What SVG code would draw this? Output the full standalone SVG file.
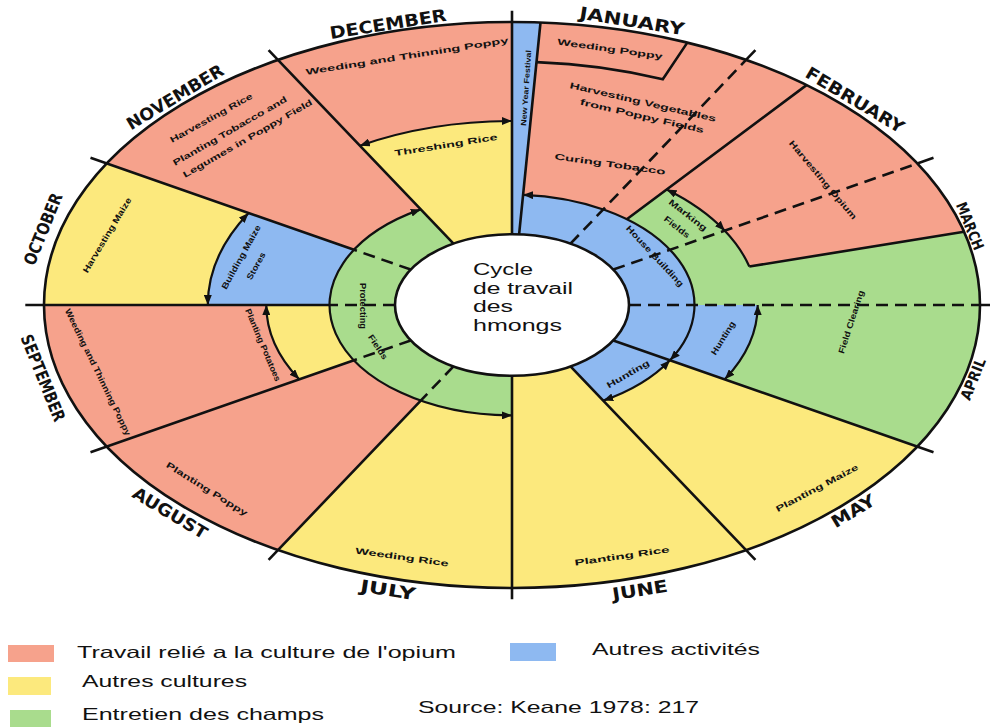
<svg xmlns="http://www.w3.org/2000/svg" width="990" height="728" viewBox="0 0 990 728">
<style>
.r{fill:#F6A28C}.y{fill:#FCE97D}.g{fill:#A9DC8D}.b{fill:#8EB9F1}
.ln{fill:none;stroke:#111;stroke-width:2.6;stroke-linecap:butt}
.ds{fill:none;stroke:#111;stroke-width:2.6;stroke-dasharray:12 7}
.ar{fill:none;stroke:#111;stroke-width:2.2;marker-start:url(#ah);marker-end:url(#ah)}
.m{font-family:"DejaVu Sans Condensed","Liberation Sans",Arial,sans-serif;font-weight:bold;font-size:17px;fill:#111;text-anchor:middle}
.t{font-family:"Liberation Sans",Arial,sans-serif;font-weight:bold;font-size:8.5px;fill:#111;text-anchor:middle}
.ts{font-family:"Liberation Sans",Arial,sans-serif;font-weight:bold;font-size:8.5px;fill:#111;text-anchor:start}
.c{font-family:"Liberation Sans",Arial,sans-serif;font-size:16px;fill:#111}
.lg{font-family:"Liberation Sans",Arial,sans-serif;font-size:16.5px;fill:#111}
</style>
<defs>
<marker id="ah" markerWidth="10" markerHeight="8" refX="10" refY="4" orient="auto-start-reverse" markerUnits="userSpaceOnUse"><path d="M0,0 L10,4 L0,8 Z" fill="#111"/></marker>
</defs>
<rect width="990" height="728" fill="#fff"/>

<g id="dec-weeding"><path class="r" d="M278,59.9 A468 283 0 0 1 512,22 L512,121 A304.2 184 0 0 0 359.9,145.7 Z"/>
<text class="t" dy="0.35em" transform="translate(407 56) rotate(-9)" textLength="205" lengthAdjust="spacingAndGlyphs">Weeding and Thinning Poppy</text></g>
<g id="dec-threshing"><path class="y" d="M359.9,145.7 A304.2 184 0 0 1 512,121 L512,234.25 A117 70.75 0 0 0 453.5,243.7 Z"/>
<text class="t" dy="0.35em" transform="translate(446 145) rotate(-9)" textLength="104" lengthAdjust="spacingAndGlyphs">Threshing Rice</text></g>
<g id="new-year"><path class="b" d="M512,22 A468 283 0 0 1 540.5,22.5 L519.1,234.4 A117 70.75 0 0 0 512,234.25 Z"/>
<text class="t" style="font-size:7.5px" dy="0.35em" transform="translate(526 88) rotate(-86)" textLength="76" lengthAdjust="spacingAndGlyphs">New Year Festival</text></g>
<g id="jan-harvest"><path class="r" d="M540.5,22.5 A468 283 0 0 1 806.5,85.1 L626.8,219.2 A182.5 110.4 0 0 0 523.1,194.8 Z"/>
<text class="t" dy="0.35em" transform="translate(643 102) rotate(13)" textLength="150" lengthAdjust="spacingAndGlyphs">Harvesting Vegetables</text>
<text class="t" dy="0.35em" transform="translate(642 116) rotate(13)" textLength="127" lengthAdjust="spacingAndGlyphs">from Poppy Fields</text>
<text class="t" dy="0.35em" transform="translate(610 164) rotate(8)" textLength="112" lengthAdjust="spacingAndGlyphs">Curing Tobacco</text></g>
<g id="jan-weeding-poppy"><path class="ln" d="M536.6,62.1 A402.5 243.4 0 0 1 662.8,79.3 L687.3,42.6"/>
<text class="t" dy="0.35em" transform="translate(610 49) rotate(8)" textLength="106" lengthAdjust="spacingAndGlyphs">Weeding Poppy</text></g>
<g id="field-clearing"><path class="g" d="M806.5,85.1 A468 283 0 0 1 917.3,446.5 L670,360.2 A182.5 110.4 0 0 0 626.8,219.2 Z"/>
<text class="t" dy="0.35em" transform="translate(851 322) rotate(-72)" textLength="66" lengthAdjust="spacingAndGlyphs">Field Clearing</text></g>
<g id="marking-fields">
<text class="t" dy="0.35em" transform="translate(688 215) rotate(38)" textLength="46" lengthAdjust="spacingAndGlyphs">Marking</text>
<text class="t" dy="0.35em" transform="translate(677 227) rotate(38)" textLength="30" lengthAdjust="spacingAndGlyphs">Fields</text></g>
<g id="feb-opium"><path class="r" d="M806.5,85.1 A468 283 0 0 1 964,231.8 L749.3,266.5 A245.7 148.6 0 0 0 666.6,189.5 Z"/>
<text class="t" dy="0.35em" transform="translate(823 180) rotate(50)" textLength="100" lengthAdjust="spacingAndGlyphs">Harvesting Opium</text></g>
<g id="hunting-1"><path class="b" d="M757.7,305 A245.7 148.6 0 0 1 724.8,379.3 L670,360.2 A182.5 110.4 0 0 0 694.5,305 Z"/>
<text class="t" dy="0.35em" transform="translate(723 338) rotate(-58)" textLength="38" lengthAdjust="spacingAndGlyphs">Hunting</text></g>
<g id="house-building"><path class="b" d="M523.1,194.8 A182.5 110.4 0 0 1 670,360.2 L613.3,340.4 A117 70.75 0 0 0 519.1,234.4 Z"/>
<text class="t" dy="0.35em" transform="translate(655 256) rotate(47)" textLength="80" lengthAdjust="spacingAndGlyphs">House Building</text></g>
<g id="hunting-2"><path class="b" d="M670,360.2 A182.5 110.4 0 0 1 603.25,400.6 L570.5,366.3 A117 70.75 0 0 0 613.3,340.4 Z"/>
<text class="t" dy="0.35em" transform="translate(628 374) rotate(-30)" textLength="48" lengthAdjust="spacingAndGlyphs">Hunting</text></g>
<g id="may-maize"><path class="y" d="M917.3,446.5 A468 283 0 0 1 746,550.1 L603.25,400.6 A182.5 110.4 0 0 0 670,360.2 Z"/>
<text class="t" dy="0.35em" transform="translate(817 488) rotate(-28)" textLength="92" lengthAdjust="spacingAndGlyphs">Planting Maize</text></g>
<g id="june-rice"><path class="y" d="M746,550.1 A468 283 0 0 1 512,588 L512,375.75 A117 70.75 0 0 0 570.5,366.3 Z"/>
<text class="t" dy="0.35em" transform="translate(622 556) rotate(-8)" textLength="96" lengthAdjust="spacingAndGlyphs">Planting Rice</text></g>
<g id="july-rice"><path class="y" d="M512,588 A468 283 0 0 1 278,550.1 L420.75,400.6 A182.5 110.4 0 0 0 512,415.4 Z"/>
<text class="t" dy="0.35em" transform="translate(402 557) rotate(8)" textLength="94" lengthAdjust="spacingAndGlyphs">Weeding Rice</text></g>
<g id="protecting-fields"><path class="g" d="M420.75,209.4 A182.5 110.4 0 0 0 512,415.4 L512,375.75 A117 70.75 0 0 1 453.5,243.7 Z"/>
<text class="t" dy="0.35em" transform="translate(363 306) rotate(90)" textLength="46" lengthAdjust="spacingAndGlyphs">Protecting</text>
<text class="t" dy="0.35em" transform="translate(378 347) rotate(56)" textLength="28" lengthAdjust="spacingAndGlyphs">Fields</text></g>
<g id="aug-poppy"><path class="r" d="M278,550.1 A468 283 0 0 1 106.7,446.5 L354,360.2 A182.5 110.4 0 0 0 420.75,400.6 Z"/>
<text class="t" dy="0.35em" transform="translate(207 489) rotate(32)" textLength="94" lengthAdjust="spacingAndGlyphs">Planting Poppy</text></g>
<g id="sep-poppy"><path class="r" d="M106.7,446.5 A468 283 0 0 1 44,305 L266.3,305 A245.7 148.6 0 0 0 299.2,379.3 Z"/>
<text class="t" dy="0.35em" transform="translate(98 372) rotate(64)" textLength="140" lengthAdjust="spacingAndGlyphs">Weeding and Thinning Poppy</text>
<text class="t" dy="0.35em" transform="translate(263 345) rotate(67)" textLength="78" lengthAdjust="spacingAndGlyphs">Planting Potatoes</text></g>
<g id="sep-potatoes"><path class="y" d="M299.2,379.3 A245.7 148.6 0 0 1 266.3,305 L329.5,305 A182.5 110.4 0 0 0 354,360.2 Z"/></g>
<g id="oct-maize"><path class="y" d="M44,305 A468 283 0 0 1 106.7,163.5 L248.6,213 A304.2 184 0 0 0 207.8,305 Z"/>
<text class="t" dy="0.35em" transform="translate(107 235) rotate(-59)" textLength="86" lengthAdjust="spacingAndGlyphs">Harvesting Maize</text></g>
<g id="oct-stores"><path class="b" d="M207.8,305 A304.2 184 0 0 1 248.6,213 L354,249.8 A182.5 110.4 0 0 0 329.5,305 Z"/>
<text class="t" dy="0.35em" transform="translate(241 257) rotate(-61)" textLength="72" lengthAdjust="spacingAndGlyphs">Building Maize</text>
<text class="t" dy="0.35em" transform="translate(256 266) rotate(-61)" textLength="30" lengthAdjust="spacingAndGlyphs">Stores</text></g>
<g id="nov-rice"><path class="r" d="M106.7,163.5 A468 283 0 0 1 278,59.9 L420.75,209.4 A182.5 110.4 0 0 0 354,249.8 Z"/>
<text class="ts" transform="translate(172 143) rotate(-29)" textLength="93" lengthAdjust="spacingAndGlyphs">Harvesting Rice</text>
<text class="ts" transform="translate(175 166) rotate(-30)" textLength="130" lengthAdjust="spacingAndGlyphs">Planting Tobacco and</text>
<text class="ts" transform="translate(185 178) rotate(-30)" textLength="148" lengthAdjust="spacingAndGlyphs">Legumes in Poppy Field</text></g>

<g id="connectors">
<path class="ln" d="M512,234.25 L512,10.7 M519.1,234.4 L540.5,22.5 M453.5,243.7 L268.6,50.1 M354,249.8 L90.5,157.85 M329.5,305 L25.3,305 M354,360.2 L90.5,452.2 M420.75,400.6 L268.6,559.9 M512,375.75 L512,599.3 M570.5,366.3 L755.4,559.9 M613.3,340.4 L933.5,452.2 M980,305 L992,305 M917.3,163.5 L933.5,157.85 M746,59.9 L755.4,50.1 M626.8,219.2 L806.5,85.1 M749.3,266.5 L964,231.8"/>
<path class="ds" d="M410.7,269.6 L354,249.8 M395,305 L329.5,305 M410.7,340.4 L354,360.2 M453.5,366.3 L420.75,400.6 M629,305 L980,305 M613.3,269.6 L917.3,163.5 M570.5,243.7 L746,59.9"/>
<path class="ar" d="M359.9,145.7 A304.2 184 0 0 1 512,121"/>
<path class="ar" d="M207.8,305 A304.2 184 0 0 1 248.6,213"/>
<path class="ar" d="M299.2,379.3 A245.7 148.6 0 0 1 266.3,305"/>
<path class="ar" d="M512,415.4 A182.5 110.4 0 0 1 420.75,209.4"/>
<path class="ar" d="M523.1,194.8 A182.5 110.4 0 0 1 670,360.2"/>
<path class="ar" d="M670,360.2 A182.5 110.4 0 0 1 603.25,400.6"/>
<path class="ar" d="M666.6,189.5 A245.7 148.6 0 0 1 724.8,230.7"/>
<path class="ln" style="stroke-width:2.2" d="M724.8,230.7 A245.7 148.6 0 0 1 749.3,266.5"/>
<path class="ar" d="M757.7,305 A245.7 148.6 0 0 1 724.8,379.3"/>
<ellipse class="ln" cx="512" cy="305" rx="468" ry="283"/>
</g>

<g id="center"><ellipse cx="512" cy="305" rx="117" ry="70.75" fill="#fff" stroke="#111" stroke-width="2.6"/>
<text class="c" x="473" y="275" textLength="60" lengthAdjust="spacingAndGlyphs">Cycle</text>
<text class="c" x="473" y="293.5" textLength="100" lengthAdjust="spacingAndGlyphs">de travail</text>
<text class="c" x="473" y="312" textLength="40" lengthAdjust="spacingAndGlyphs">des</text>
<text class="c" x="473" y="330.5" textLength="89" lengthAdjust="spacingAndGlyphs">hmongs</text></g>

<g id="months">
<text class="m" dy="0.35em" transform="translate(388 24) rotate(-9)" textLength="118" lengthAdjust="spacingAndGlyphs">DECEMBER</text>
<text class="m" dy="0.35em" transform="translate(632 21) rotate(9)" textLength="106" lengthAdjust="spacingAndGlyphs">JANUARY</text>
<text class="m" dy="0.35em" transform="translate(855 100) rotate(31)" textLength="112" lengthAdjust="spacingAndGlyphs">FEBRUARY</text>
<text class="m" style="font-size:15px" dy="0.35em" transform="translate(970 226) rotate(68)" textLength="50" lengthAdjust="spacingAndGlyphs">MARCH</text>
<text class="m" style="font-size:15px" dy="0.35em" transform="translate(973 379) rotate(-68)" textLength="44" lengthAdjust="spacingAndGlyphs">APRIL</text>
<text class="m" dy="0.35em" transform="translate(853 511) rotate(-31)" textLength="48" lengthAdjust="spacingAndGlyphs">MAY</text>
<text class="m" dy="0.35em" transform="translate(640 590) rotate(-9)" textLength="56" lengthAdjust="spacingAndGlyphs">JUNE</text>
<text class="m" dy="0.35em" transform="translate(388 590) rotate(9)" textLength="56" lengthAdjust="spacingAndGlyphs">JULY</text>
<text class="m" dy="0.35em" transform="translate(170 513) rotate(31)" textLength="84" lengthAdjust="spacingAndGlyphs">AUGUST</text>
<text class="m" dy="0.35em" transform="translate(43 378) rotate(68)" textLength="92" lengthAdjust="spacingAndGlyphs">SEPTEMBER</text>
<text class="m" dy="0.35em" transform="translate(43 229) rotate(-68)" textLength="76" lengthAdjust="spacingAndGlyphs">OCTOBER</text>
<text class="m" dy="0.35em" transform="translate(175 97) rotate(-31)" textLength="110" lengthAdjust="spacingAndGlyphs">NOVEMBER</text>
</g>

<g id="legend">
<rect class="r" x="8" y="645" width="46" height="17"/>
<rect class="y" x="8" y="677" width="43" height="18"/>
<rect class="g" x="10" y="710" width="41" height="17"/>
<rect class="b" x="510" y="643" width="46" height="18"/>
<text class="lg" x="77" y="658" textLength="379" lengthAdjust="spacingAndGlyphs">Travail relié a la culture de l'opium</text>
<text class="lg" x="82" y="687" textLength="165" lengthAdjust="spacingAndGlyphs">Autres cultures</text>
<text class="lg" x="82" y="720" textLength="242" lengthAdjust="spacingAndGlyphs">Entretien des champs</text>
<text class="lg" x="592" y="655" textLength="168" lengthAdjust="spacingAndGlyphs">Autres activités</text>
<text class="lg" x="418" y="713" textLength="281" lengthAdjust="spacingAndGlyphs">Source: Keane 1978: 217</text>
</g>
</svg>
